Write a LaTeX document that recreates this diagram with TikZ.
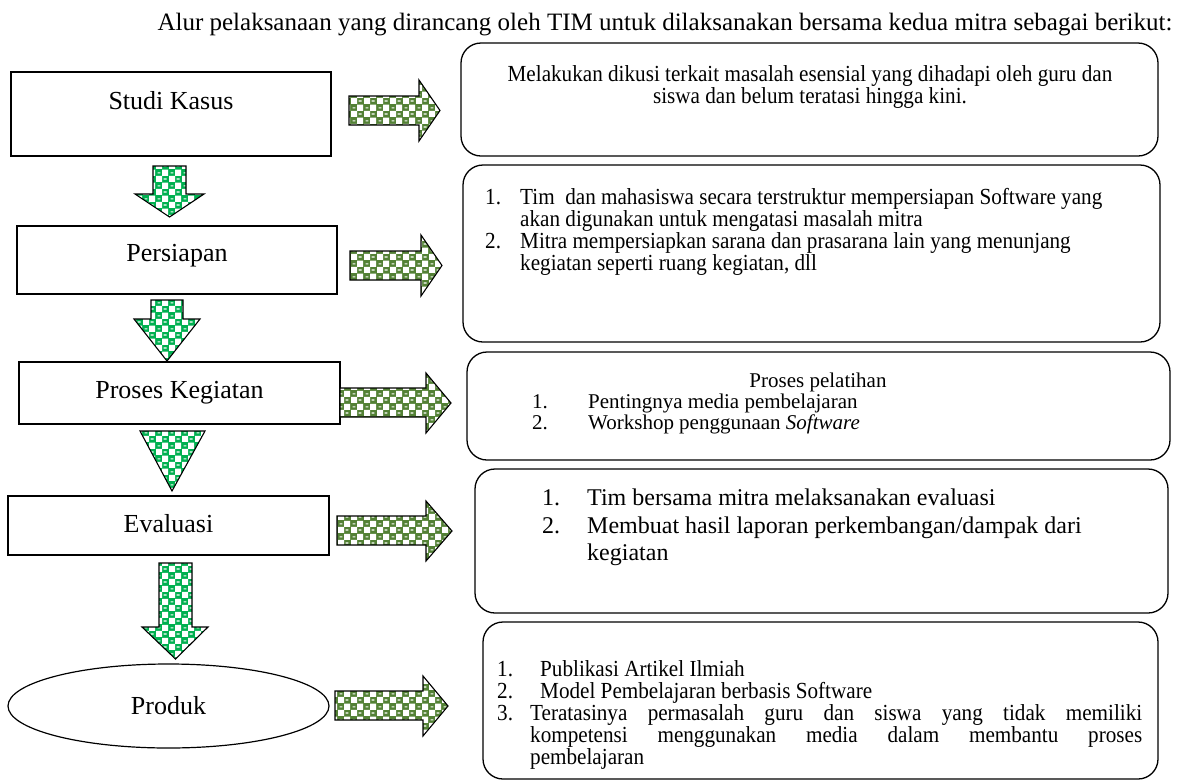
\documentclass[tikz,border=0pt]{standalone}
\usepackage{fontspec}
\setmainfont{Liberation Serif}
\newfontfamily\narrowfont[FakeStretch=0.92]{Liberation Serif}
\usetikzlibrary{shapes.geometric, patterns}

\definecolor{arrowolive}{HTML}{538135}
\definecolor{arrowgreen}{HTML}{00B050}

\pgfdeclarepatternformonly{greencheck}{\pgfpointorigin}{\pgfqpoint{13pt}{13pt}}{\pgfqpoint{13pt}{13pt}}{%
  \pgfpathrectangle{\pgfpointorigin}{\pgfqpoint{6.5pt}{6.5pt}}%
  \pgfpathrectangle{\pgfqpoint{6.5pt}{6.5pt}}{\pgfqpoint{6.5pt}{6.5pt}}%
  \pgfpathrectangle{\pgfqpoint{8.2pt}{2.6pt}}{\pgfqpoint{3pt}{1.2pt}}%
  \pgfpathrectangle{\pgfqpoint{1.7pt}{9.1pt}}{\pgfqpoint{3pt}{1.2pt}}%
  \pgfusepath{fill}}

\tikzset{
  lbox/.style={draw, line width=1.4pt, inner sep=0pt, font=\fontsize{26}{30}\selectfont},
  rbox/.style={draw, line width=1.3pt, rounded corners=20pt, inner sep=0pt},
  ntext/.style={inner sep=0pt, font=\narrowfont\fontsize{23}{22}\selectfont},
  rarrow/.style={draw, line width=1.1pt, preaction={fill=arrowolive}, pattern=greencheck, pattern color=white},
  darrow/.style={draw, line width=1.1pt, preaction={fill=arrowgreen}, pattern=greencheck, pattern color=white}
}

\begin{document}
\begin{tikzpicture}[x=1pt, y=1pt]
\useasboundingbox (0,0) rectangle (1179,-780);

\node[inner sep=0pt, font=\fontsize{25}{30}\selectfont] (title) at (665,-25)
  {Alur pelaksanaan yang dirancang oleh TIM untuk dilaksanakan bersama kedua mitra sebagai berikut:};

% left column
\node[lbox, minimum width=320pt, minimum height=84pt, text depth=28pt] (sk) at (171,-114) {Studi Kasus};
\node[lbox, minimum width=320pt, minimum height=68pt, text depth=15pt] (pr) at (177,-260) {Persiapan};
\node[lbox, minimum width=321pt, minimum height=62pt] (pk) at (179.5,-393) {Proses Kegiatan};
\node[lbox, minimum width=321pt, minimum height=59pt, text depth=5pt] (ev) at (168.5,-525.5) {Evaluasi};
\node[lbox, ellipse, line width=1.2pt, minimum width=321pt, minimum height=84pt] (pd) at (168.5,-706) {Produk};

% down arrows
\draw[darrow] (153,-166) -- (186,-166) -- (186,-194) -- (204,-194) -- (169.5,-217) -- (135,-194) -- (153,-194) -- cycle;
\draw[darrow] (151,-300) -- (183,-300) -- (183,-319) -- (200,-319) -- (167,-361) -- (134,-319) -- (151,-319) -- cycle;
\draw[darrow] (140,-431) -- (205,-431) -- (172,-491) -- cycle;
\draw[darrow] (159,-563) -- (192,-563) -- (192,-627) -- (208,-627) -- (175.5,-659) -- (142,-627) -- (159,-627) -- cycle;

% right arrows
\draw[rarrow] (349,-96) -- (419,-96) -- (419,-80) -- (440,-110.5) -- (419,-141) -- (419,-125) -- (349,-125) -- cycle;
\draw[rarrow] (350,-251) -- (421,-251) -- (421,-235) -- (442,-265.5) -- (421,-296) -- (421,-280) -- (350,-280) -- cycle;
\draw[rarrow] (340,-388) -- (426,-388) -- (426,-373) -- (451,-403) -- (426,-433) -- (426,-417) -- (340,-417) -- cycle;
\draw[rarrow] (337,-516) -- (426,-516) -- (426,-501) -- (452,-531) -- (426,-561) -- (426,-545) -- (337,-545) -- cycle;
\draw[rarrow] (335,-691) -- (423,-691) -- (423,-676) -- (448,-706) -- (423,-736) -- (423,-720) -- (335,-720) -- cycle;

% right column
\node[rbox, minimum width=697pt, minimum height=113pt] (b1) at (809.5,-99.5) {};
\node[rbox, minimum width=697pt, minimum height=177pt] (b2) at (811.5,-253.5) {};
\node[rbox, minimum width=703pt, minimum height=108pt] (b3) at (818.5,-406) {};
\node[rbox, minimum width=693pt, minimum height=144pt] (b4) at (821.5,-541) {};
\node[rbox, minimum width=675pt, minimum height=157pt] (b5) at (820.5,-700.5) {};

\node[ntext, align=center] (t1) at (810,-87)
  {Melakukan dikusi terkait masalah esensial yang dihadapi oleh guru dan\\siswa dan belum teratasi hingga kini.};
\node[ntext, align=left, anchor=north west] (t2) at (485,-188)
  {\makebox[35pt][l]{1.}Tim~ dan mahasiswa secara terstruktur mempersiapan Software yang\\
   \hspace*{35pt}akan digunakan untuk mengatasi masalah mitra\\
   \makebox[35pt][l]{2.}Mitra mempersiapkan sarana dan prasarana lain yang menunjang\\
   \hspace*{35pt}kegiatan seperti ruang kegiatan, dll};
\node[inner sep=0pt, font=\fontsize{21}{20.5}\selectfont] (t3a) at (818,-382) {Proses pelatihan};
\node[inner sep=0pt, align=left, anchor=north west, font=\fontsize{21}{20.5}\selectfont] (t3b) at (532,-394)
  {\makebox[56pt][l]{1.}Pentingnya media pembelajaran\\
   \makebox[56pt][l]{2.}Workshop penggunaan \textit{Software}};
\node[inner sep=0pt, align=left, anchor=north west, font=\fontsize{24}{27.5}\selectfont] (t4) at (542,-489)
  {\makebox[45pt][l]{1.}Tim bersama mitra melaksanakan evaluasi\\
   \makebox[45pt][l]{2.}Membuat hasil laporan perkembangan/dampak dari\\
   \hspace*{45pt}kegiatan};
\node[ntext, align=left, anchor=north west] (t5) at (497,-660)
  {\makebox[43pt][l]{1.}Publikasi Artikel Ilmiah\\
   \makebox[43pt][l]{2.}Model Pembelajaran berbasis Software\\
   \makebox[33pt][l]{3.}\makebox[612pt][s]{Teratasinya permasalah guru dan siswa yang tidak memiliki}\\
   \hspace*{33pt}\makebox[612pt][s]{kompetensi menggunakan media dalam membantu proses}\\
   \hspace*{33pt}pembelajaran};

\end{tikzpicture}
\end{document}
